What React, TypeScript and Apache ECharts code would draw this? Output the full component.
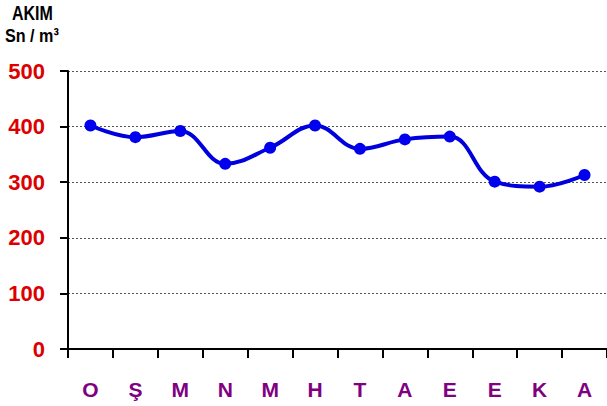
import React, { useEffect, useRef } from "react";
import * as echarts from "echarts";

const categories = ["O", "Ş", "M", "N", "M", "H", "T", "A", "E", "E", "K", "A"];
const values = [402, 381, 392, 333, 362, 402, 360, 377, 382, 301, 292, 313];
const yTicks = [0, 100, 200, 300, 400, 500];

const SANS = "'Liberation Sans', Arial, sans-serif";

export default function App() {
  const ref = useRef<HTMLDivElement>(null);
  useEffect(() => {
    const chart = echarts.init(ref.current!, null, { renderer: "svg" });
    chart.setOption({
      animation: false,
      backgroundColor: "#ffffff",
      grid: { left: 68, right: -1, top: 71, bottom: 57, containLabel: false },
      graphic: [
        {
          type: "text",
          x: 12,
          y: 3,
          scaleX: 0.8,
          style: { text: "AKIM", font: `bold 20px ${SANS}`, fill: "#000" },
        },
        {
          type: "text",
          x: 5,
          y: 26,
          scaleX: 0.85,
          style: { text: "Sn / m³", font: `bold 19px ${SANS}`, fill: "#000" },
        },
      ],
      xAxis: {
        type: "category",
        data: categories,
        boundaryGap: true,
        axisLine: { lineStyle: { color: "#000", width: 2 } },
        axisTick: { show: true, inside: false, length: 9, lineStyle: { color: "#000", width: 2 } },
        axisLabel: {
          margin: 30,
          color: "#800080",
          fontSize: 21,
          fontWeight: "bold",
          fontFamily: SANS,
        },
        splitLine: { show: false },
      },
      yAxis: {
        type: "value",
        min: yTicks[0],
        max: yTicks[yTicks.length - 1],
        interval: 100,
        axisLine: { show: true, lineStyle: { color: "#000", width: 2 } },
        axisTick: { show: true, length: 8, lineStyle: { color: "#000", width: 2 } },
        axisLabel: {
          margin: 23,
          color: "#dd0000",
          fontSize: 22,
          fontWeight: "bold",
          fontFamily: SANS,
        },
        splitLine: { show: true, lineStyle: { color: "#555", type: [2, 2], width: 1 } },
      },
      series: [
        {
          type: "line",
          data: values,
          smooth: 0.4,
          symbol: "circle",
          symbolSize: 12,
          lineStyle: { color: "#0000dd", width: 4 },
          itemStyle: { color: "#0000ee" },
        },
      ],
    });
    return () => chart.dispose();
  }, []);
  return <div ref={ref} style={{ width: 607, height: 406, position: "absolute", left: 0, top: 0 }} />;
}
